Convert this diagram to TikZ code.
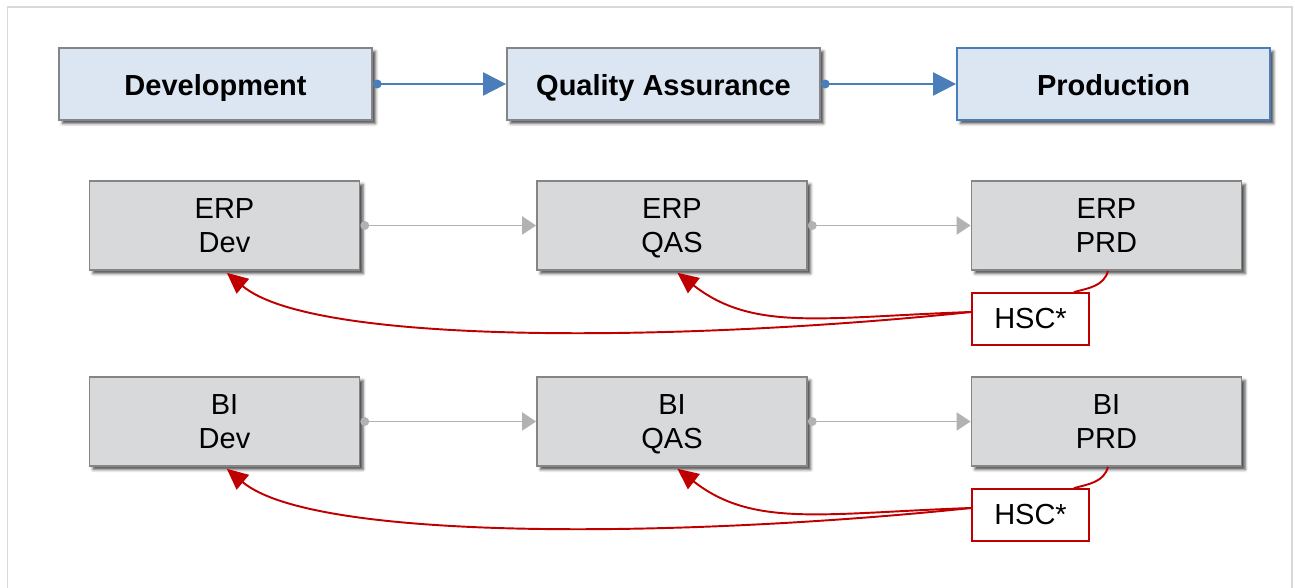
\documentclass[tikz,border=0pt]{standalone}
\usepackage{fontspec}
\setmainfont{Liberation Sans}
\usetikzlibrary{arrows.meta,shadows.blur}

\definecolor{stagefill}{HTML}{DCE6F2}
\definecolor{stageline}{HTML}{4A7EBB}
\definecolor{sysfill}{HTML}{D8D9DB}
\definecolor{sysline}{HTML}{858585}
\definecolor{hscred}{HTML}{C00000}

\tikzset{
  boxshadow/.style={blur shadow={shadow xshift=2pt, shadow yshift=-2pt, shadow blur radius=1.6pt, shadow opacity=70}},
  stage/.style={draw=sysline, line width=1pt, fill=stagefill, boxshadow,
    minimum width=6.26cm, minimum height=1.44cm, text height=15pt, text depth=2pt,
    font=\fontsize{16.5}{20}\selectfont\bfseries},
  system/.style={draw=sysline, line width=1pt, fill=sysfill, boxshadow, align=center,
    minimum width=5.4cm, minimum height=1.78cm, text height=31.3pt, text depth=0.5pt,
    font=\fontsize{16.5}{19.3}\selectfont},
  hsc/.style={draw=hscred, line width=1pt, fill=white,
    minimum width=2.34cm, minimum height=1.04cm, font=\fontsize{16.5}{19}\selectfont},
  flow/.style={line width=1.1pt, stageline, {Circle[length=5pt]}-{Triangle[length=0.46cm,width=0.46cm]}},
  move/.style={line width=1.1pt, gray!60, {Circle[length=5pt]}-{Triangle[length=0.28cm,width=0.36cm]}},
  copyback/.style={line width=1.1pt, hscred, -{Triangle[length=0.42cm,width=0.38cm]}, shorten >=0.06cm},
}

\begin{document}
\begin{tikzpicture}
\useasboundingbox (0,0) rectangle (25.9,11.76);
\draw[gray!30, line width=0.8pt] (0.15,-0.1) -- (0.15,11.62) -- (25.84,11.62) -- (25.84,-0.1);

% landscape stages
\node[stage] (dev) at (4.31,10.08) {Development};
\node[stage] (qa) at (13.27,10.08) {Quality Assurance};
\node[stage, draw=stageline] (prod) at (22.27,10.08) {Production};
\draw[flow] (dev) -- (qa);
\draw[flow] (qa) -- (prod);

% systems
\node[system] (erpdev) at (4.49,7.25) {ERP\\Dev};
\node[system] (erpqas) at (13.44,7.25) {ERP\\QAS};
\node[system] (erpprd) at (22.13,7.25) {ERP\\PRD};
\node[system] (bidev) at (4.49,3.33) {BI\\Dev};
\node[system] (biqas) at (13.44,3.33) {BI\\QAS};
\node[system] (biprd) at (22.13,3.33) {BI\\PRD};
\draw[move] (erpdev) -- (erpqas);
\draw[move] (erpqas) -- (erpprd);
\draw[move] (bidev) -- (biqas);
\draw[move] (biqas) -- (biprd);

% system copies
\node[hsc] (hsca) at (20.61,5.38) {HSC*};
\node[hsc] (hscb) at (20.61,1.46) {HSC*};
\draw[hscred, line width=1.1pt] ([xshift=0.03cm]erpprd.south) to[out=-105, in=15] ([xshift=-0.32cm]hsca.north east);
\draw[hscred, line width=1.1pt] ([xshift=0.03cm]biprd.south) to[out=-105, in=15] ([xshift=-0.32cm]hscb.north east);
\draw[copyback] ([yshift=0.14cm]hsca.west) to[out=186, in=-40, out looseness=0.93, in looseness=0.41] (erpdev.south);
\draw[copyback] ([yshift=0.14cm]hsca.west) to[out=182, in=-38, out looseness=1.27, in looseness=0.85] ([xshift=0.06cm]erpqas.south);
\draw[copyback] ([yshift=0.14cm]hscb.west) to[out=186, in=-40, out looseness=0.93, in looseness=0.41] (bidev.south);
\draw[copyback] ([yshift=0.14cm]hscb.west) to[out=182, in=-38, out looseness=1.27, in looseness=0.85] ([xshift=0.06cm]biqas.south);
\end{tikzpicture}
\end{document}
